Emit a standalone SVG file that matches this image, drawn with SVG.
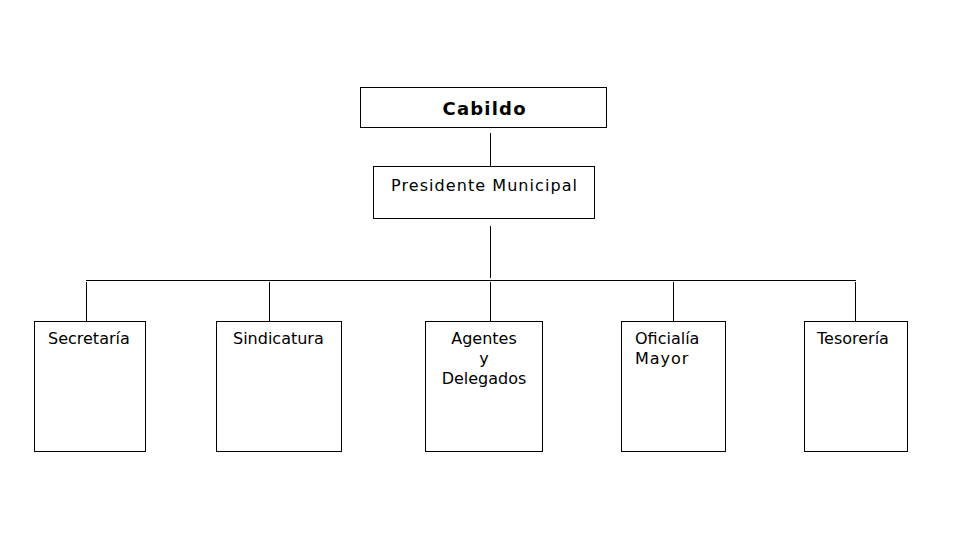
<svg xmlns="http://www.w3.org/2000/svg" width="959" height="559" viewBox="0 0 959 559">
<style>
.box{fill:#fff;stroke:#000;stroke-width:1}
.t{font-family:"DejaVu Sans",Verdana,sans-serif;font-size:16px;fill:#000}
.c{text-anchor:middle}
.b{font-weight:bold;font-size:18px}
#connectors line{stroke:#000;stroke-width:1}
</style>
<rect width="959" height="559" fill="#fff"/>
<g id="connectors">
<line x1="490.5" y1="133" x2="490.5" y2="166"/>
<line x1="490.5" y1="226" x2="490.5" y2="278"/>
<line x1="86" y1="280.5" x2="856" y2="280.5"/>
<line x1="86.5" y1="282" x2="86.5" y2="321"/>
<line x1="269.5" y1="282" x2="269.5" y2="321"/>
<line x1="490.5" y1="282" x2="490.5" y2="321"/>
<line x1="673.5" y1="282" x2="673.5" y2="321"/>
<line x1="855.5" y1="282" x2="855.5" y2="321"/>
</g>
<g id="cabildo">
<rect class="box" x="360.5" y="87.5" width="246" height="40"/>
<text class="t c b" x="484" y="115" textLength="83" lengthAdjust="spacing">Cabildo</text>
</g>
<g id="presidente">
<rect class="box" x="373.5" y="166.5" width="221" height="52"/>
<text class="t" x="391" y="191" textLength="186" lengthAdjust="spacing">Presidente Municipal</text>
</g>
<g id="secretaria">
<rect class="box" x="34.5" y="321.5" width="111" height="130"/>
<text class="t" x="48" y="344">Secretaría</text>
</g>
<g id="sindicatura">
<rect class="box" x="216.5" y="321.5" width="125" height="130"/>
<text class="t" x="233" y="344">Sindicatura</text>
</g>
<g id="agentes">
<rect class="box" x="425.5" y="321.5" width="117" height="130"/>
<text class="t c" x="484" y="344">Agentes</text>
<text class="t c" x="484" y="364">y</text>
<text class="t c" x="484" y="384">Delegados</text>
</g>
<g id="oficialia">
<rect class="box" x="621.5" y="321.5" width="104" height="130"/>
<text class="t" x="635" y="344">Oficialía</text>
<text class="t" x="635" y="364" letter-spacing="1">Mayor</text>
</g>
<g id="tesoreria">
<rect class="box" x="804.5" y="321.5" width="103" height="130"/>
<text class="t" x="817" y="344">Tesorería</text>
</g>
</svg>
